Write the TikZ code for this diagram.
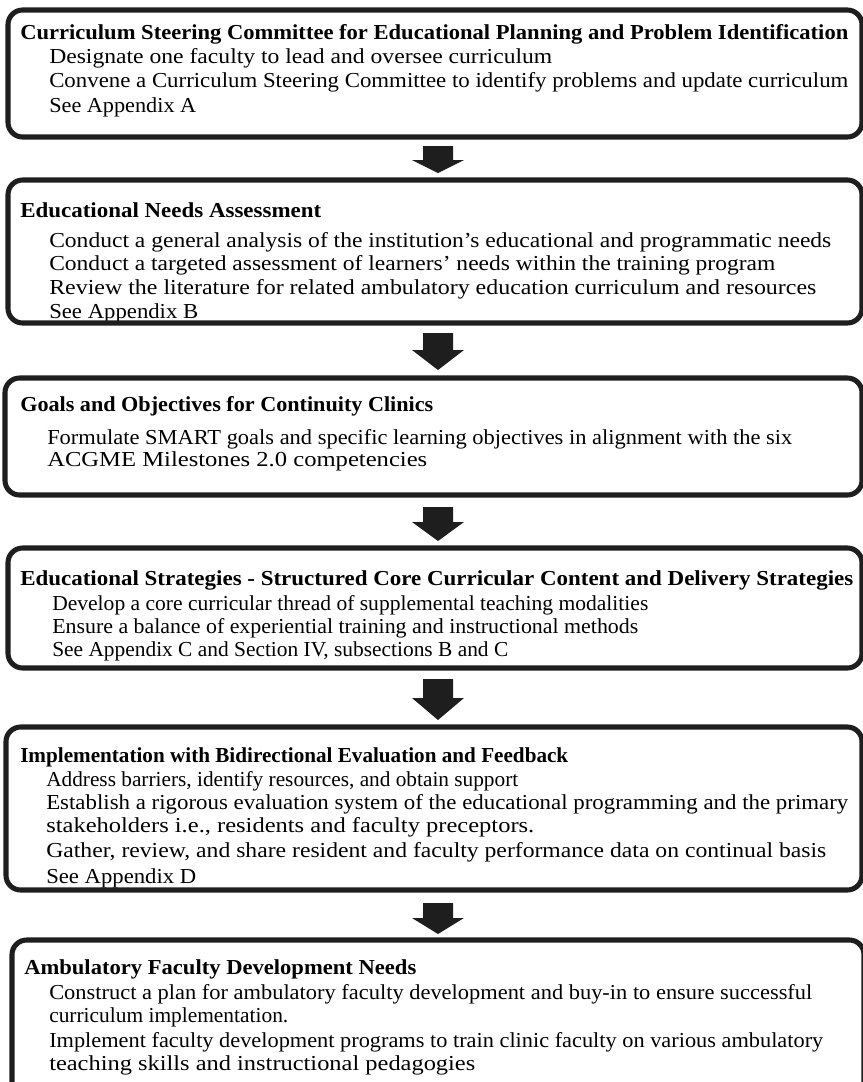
\documentclass[tikz,border=0pt]{standalone}
\usepackage{fontspec}
\setmainfont{Liberation Serif}
\definecolor{boxcol}{HTML}{1E1E1E}
\newcommand{\boxat}[5]{\node[box, minimum width={(#4-#2)*0.75pt}, minimum height={(#5-#3)*0.75pt}] (#1) at ({(#2+#4)/2},{(#3+#5)/2}) {};}
\newcommand{\fitline}[2]{\resizebox{\dimexpr #1pt*3/4\relax}{\height}{#2}}
\newcommand{\blockarr}[4]{%
  \coordinate (#1) at (438,#2);
  \fill[arrfill] (#1) ++(-15,0) -- ++(30,0) -- (453,#3) -- (464,#3) -- (438,#4) -- (412,#3) -- (423,#3) -- cycle;}
\begin{document}
\begin{tikzpicture}[x=0.75pt,y=-0.75pt,
  box/.style={draw=boxcol, line width=3.8pt, rounded corners=11pt, inner sep=0pt},
  ttl/.style={anchor=base west, inner sep=0pt, font=\fontsize{16}{18}\selectfont\bfseries},
  txt/.style={anchor=base west, inner sep=0pt, font=\fontsize{16}{18}\selectfont},
  arrfill/.style={fill=boxcol}]
\useasboundingbox (0,0) rectangle (863,1082);
\clip (0,0) rectangle (863,1082);
% box 1
\node[ttl] (t1) at (20,39) {\fitline{828}{Curriculum Steering Committee for Educational Planning and Problem Identification}};
\node[txt] (t1a) at (49,63) {\fitline{503}{Designate one faculty to lead and oversee curriculum}};
\node[txt] (t1b) at (49,87) {\fitline{799}{Convene a Curriculum Steering Committee to identify problems and update curriculum}};
\node[txt] (t1c) at (49,112) {\fitline{147}{See Appendix A}};
\boxat{b1}{8}{10}{862}{137}
% box 2
\node[ttl] (t2) at (20,217) {\fitline{301}{Educational Needs Assessment}};
\node[txt] (t2a) at (49,247) {\fitline{782}{Conduct a general analysis of the institution’s educational and programmatic needs}};
\node[txt] (t2b) at (49,270) {\fitline{726}{Conduct a targeted assessment of learners’ needs within the training program}};
\node[txt] (t2c) at (49,294) {\fitline{767}{Review the literature for related ambulatory education curriculum and resources}};
\node[txt] (t2d) at (49,318) {\fitline{149}{See Appendix B}};
\boxat{b2}{8}{180}{862}{323}
% box 3
\node[ttl] (t3) at (20,411) {\fitline{413}{Goals and Objectives for Continuity Clinics}};
\node[txt] (t3a) at (47,444) {\fitline{745}{Formulate SMART goals and specific learning objectives in alignment with the six}};
\node[txt] (t3b) at (47,466) {\fitline{380}{ACGME Milestones 2.0 competencies}};
\boxat{b3}{5}{378}{862}{495}
% box 4
\node[ttl] (t4) at (20,585) {\fitline{833}{Educational Strategies - Structured Core Curricular Content and Delivery Strategies}};
\node[txt] (t4a) at (52,610) {\fitline{596}{Develop a core curricular thread of supplemental teaching modalities}};
\node[txt] (t4b) at (52,633) {\fitline{586}{Ensure a balance of experiential training and instructional methods}};
\node[txt] (t4c) at (52,656) {\fitline{456}{See Appendix C and Section IV, subsections B and C}};
\boxat{b4}{8}{548}{862}{668}
% box 5
\node[ttl] (t5) at (20,762) {\fitline{548}{Implementation with Bidirectional Evaluation and Feedback}};
\node[txt] (t5a) at (46,786) {\fitline{472}{Address barriers, identify resources, and obtain support}};
\node[txt] (t5b) at (46,809) {\fitline{802}{Establish a rigorous evaluation system of the educational programming and the primary}};
\node[txt] (t5c) at (46,832) {\fitline{488}{stakeholders i.e., residents and faculty preceptors.}};
\node[txt] (t5d) at (46,857) {\fitline{780}{Gather, review, and share resident and faculty performance data on continual basis}};
\node[txt] (t5e) at (46,883) {\fitline{150}{See Appendix D}};
\boxat{b5}{6}{727}{862}{890}
% box 6
\node[ttl] (t6) at (24,974) {\fitline{392}{Ambulatory Faculty Development Needs}};
\node[txt] (t6a) at (49,999) {\fitline{763}{Construct a plan for ambulatory faculty development and buy-in to ensure successful}};
\node[txt] (t6b) at (49,1022) {\fitline{239}{curriculum implementation.}};
\node[txt] (t6c) at (49,1047) {\fitline{774}{Implement faculty development programs to train clinic faculty on various ambulatory}};
\node[txt] (t6d) at (49,1070) {\fitline{426}{teaching skills and instructional pedagogies}};
\boxat{b6}{12}{940}{864}{1100}
% arrows
\blockarr{a1}{146}{160}{173}
\blockarr{a2}{333}{350}{370}
\blockarr{a3}{507}{522}{541}
\blockarr{a4}{679}{698}{720}
\blockarr{a5}{903}{918}{934}
\end{tikzpicture}
\end{document}
